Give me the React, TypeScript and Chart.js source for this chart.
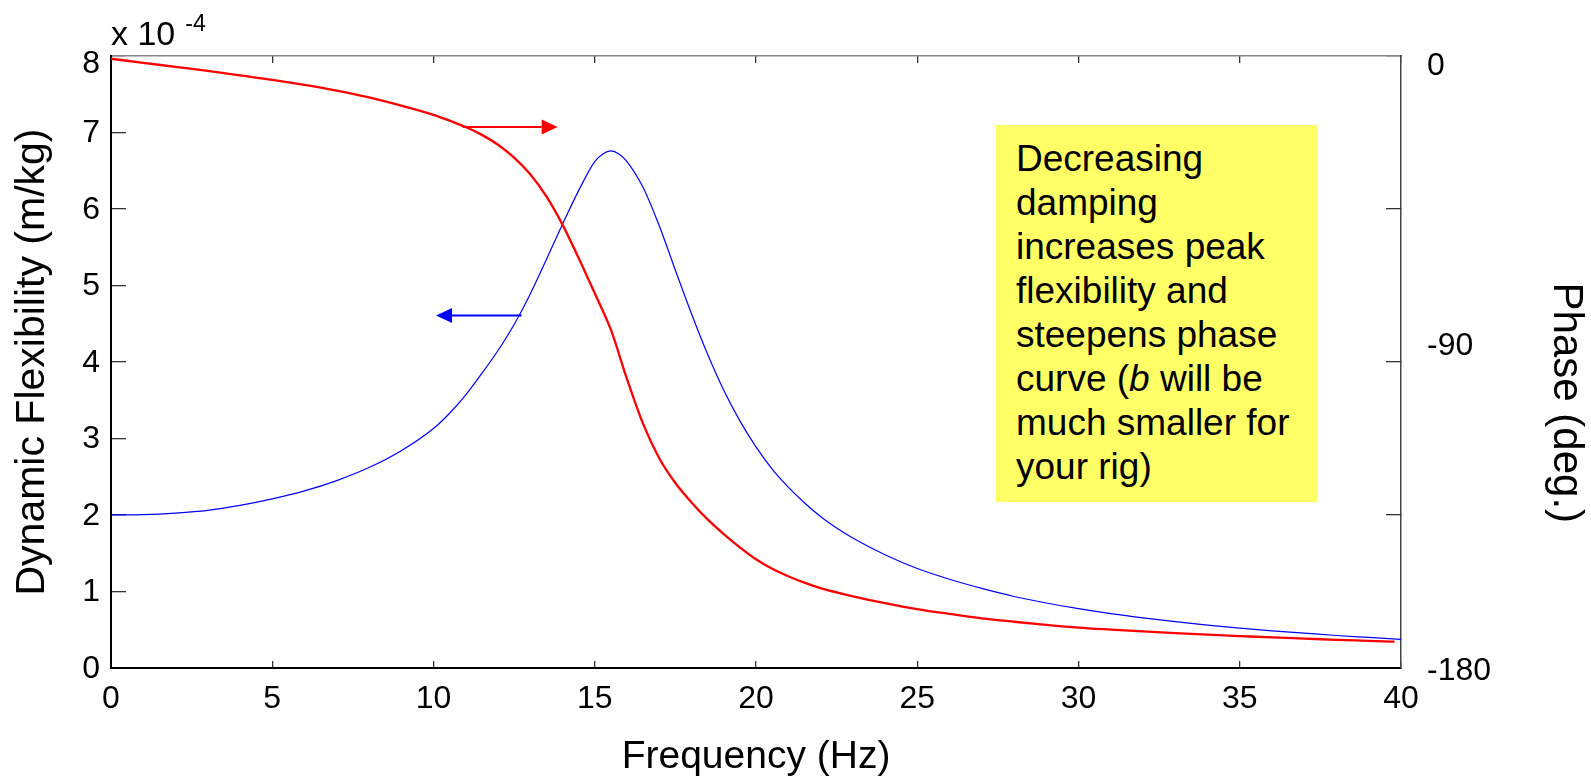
import React, { useEffect, useRef } from "react";
import { Chart, registerables } from "chart.js";

Chart.register(...registerables);

// Frequency samples (Hz) for the flexibility curve
const FREQ = [
  0, 1, 2, 3, 4, 5, 6, 7, 8, 9, 10,
  10.5, 11, 11.5, 12, 12.5, 13, 13.5, 14, 14.5, 15,
  15.25, 15.5, 15.75,
  16, 16.5, 17, 17.5, 18, 18.5, 19, 19.5, 20, 20.5, 21, 21.5, 22, 22.5,
  23, 24, 25, 26, 27, 28, 29, 30, 31, 32, 33, 34, 35, 36, 37, 38, 39, 40,
];
// Dynamic flexibility (x 10^-4 m/kg)
const FLEX = [
  2.0, 2.005, 2.025, 2.06, 2.125, 2.21, 2.315, 2.45, 2.62, 2.84, 3.13,
  3.33, 3.57, 3.85, 4.15, 4.49, 4.89, 5.34, 5.8, 6.24, 6.62,
  6.72, 6.76, 6.72,
  6.62, 6.28, 5.78, 5.2, 4.63, 4.1, 3.63, 3.23, 2.89, 2.6, 2.365, 2.16, 1.98, 1.83,
  1.7, 1.48, 1.3, 1.16, 1.04, 0.935, 0.85, 0.775, 0.71, 0.655, 0.605, 0.56, 0.52,
  0.485, 0.455, 0.425, 0.4, 0.375,
];
// Phase curve samples (Hz) and values (deg.)
const PHASE_FREQ = [
  0, 1, 2, 3, 4, 5, 6, 7, 8, 9, 10, 10.5, 11, 11.5, 12, 12.5, 13, 13.5, 14, 14.5,
  15, 15.5, 16, 16.5, 17, 17.5, 18, 18.5, 19, 19.5, 20, 20.5, 21, 21.5, 22, 23, 24,
  25, 26, 27, 28, 29, 30, 31, 32, 33, 34, 35, 36, 37, 38, 39, 39.8,
];
const PHASE = [
  -0.8, -2.0, -3.2, -4.4, -5.7, -7.0, -8.5, -10.2, -12.2, -14.6, -17.3, -19.0, -20.9,
  -23.2, -26.1, -29.9, -34.8, -41.3, -49.6, -59.4, -69.8, -80.5, -95.0, -108.2,
  -118.3, -125.6, -131.3, -136.3, -140.6, -144.5, -148.0, -150.8, -153.0, -154.9,
  -156.5, -158.9, -160.9, -162.7, -164.1, -165.4, -166.4, -167.3, -168.1, -168.7,
  -169.25, -169.75, -170.2, -170.6, -171.0, -171.35, -171.7, -172.0, -172.25,
];

const X_RANGE = [0, 40];
const X_STEP = 5;
const Y_RANGE = [0, 8];
const Y_STEP = 1;
const PHASE_RANGE = [-180, 0];
const PHASE_STEP = 22.5;
const PHASE_LABEL_EVERY = 90;

const X_TITLE = "Frequency (Hz)";
const Y_TITLE = "Dynamic Flexibility (m/kg)";
const Y2_TITLE = "Phase (deg.)";
const NOTE_LINES = [
  "Decreasing",
  "damping",
  "increases peak",
  "flexibility and",
  "steepens phase",
  "curve (|b| will be",
  "much smaller for",
  "your rig)",
];

// Arrow annotations in data coordinates
const ARROWS = [
  { axis: "y2", from: 10.91, to: 13.85, value: -20.9, color: "#ff0000" },
  { axis: "y", from: 12.73, to: 10.08, value: 4.607, color: "#0000ff" },
];

const FONT = "'Liberation Sans', Arial, Helvetica, sans-serif";
const TICK_SIZE = 32;

const annotationPlugin = {
  id: "annotations",
  afterDatasetsDraw(chart: any) {
    const { ctx, scales } = chart;
    ARROWS.forEach((a) => {
      const x1 = scales.x.getPixelForValue(a.from);
      const x2 = scales.x.getPixelForValue(a.to);
      const y = scales[a.axis].getPixelForValue(a.value);
      const dir = Math.sign(x2 - x1);
      const head = 16;
      ctx.save();
      ctx.strokeStyle = a.color;
      ctx.fillStyle = a.color;
      ctx.lineWidth = 2;
      ctx.beginPath();
      ctx.moveTo(x1, y);
      ctx.lineTo(x2 - dir * head, y);
      ctx.stroke();
      ctx.beginPath();
      ctx.moveTo(x2, y);
      ctx.lineTo(x2 - dir * head, y - 7.5);
      ctx.lineTo(x2 - dir * head, y + 7.5);
      ctx.closePath();
      ctx.fill();
      ctx.restore();
    });
  },
  afterDraw(chart: any) {
    const { ctx, chartArea } = chart;
    ctx.save();
    ctx.fillStyle = "#000";
    ctx.textBaseline = "alphabetic";
    ctx.textAlign = "left";
    ctx.font = `34px ${FONT}`;
    const base = "x 10";
    ctx.fillText(base, chartArea.left, chartArea.top - 11);
    const w = ctx.measureText(base).width;
    ctx.font = `23px ${FONT}`;
    ctx.fillText("-4", chartArea.left + w + 10, chartArea.top - 25);
    ctx.restore();
  },
};

// top-edge labels sit a little lower than their tick; the middle phase label sits higher
const topShiftFont = (isTop: boolean) =>
  isTop ? { size: TICK_SIZE, lineHeight: "14px" } : { size: TICK_SIZE, lineHeight: 1.2 };

export default function App() {
  const canvasRef = useRef<HTMLCanvasElement | null>(null);

  useEffect(() => {
    if (!canvasRef.current) return;
    Chart.defaults.font.family = FONT;
    Chart.defaults.color = "#000";
    const chart = new Chart(canvasRef.current, {
      type: "line",
      data: {
        datasets: [
          {
            label: "Phase",
            data: PHASE_FREQ.map((f, i) => ({ x: f, y: PHASE[i] })),
            xAxisID: "x",
            yAxisID: "y2",
            borderColor: "#ff0000",
            borderWidth: 2.3,
            pointRadius: 0,
            fill: false,
            cubicInterpolationMode: "monotone",
          },
          {
            label: "Flexibility",
            data: FREQ.map((f, i) => ({ x: f, y: FLEX[i] })),
            xAxisID: "x",
            yAxisID: "y",
            borderColor: "#0000ff",
            borderWidth: 1.2,
            pointRadius: 0,
            fill: false,
            cubicInterpolationMode: "monotone",
          },
        ],
      },
      options: {
        responsive: false,
        animation: false,
        layout: { padding: { top: 56, left: 0, right: 0, bottom: 0 } },
        plugins: { legend: { display: false }, tooltip: { enabled: false } },
        scales: {
          x: {
            type: "linear",
            position: "bottom",
            min: X_RANGE[0],
            max: X_RANGE[1],
            ticks: {
              stepSize: X_STEP,
              font: { size: TICK_SIZE },
              color: "#000",
              padding: 19,
              maxRotation: 0,
              autoSkip: false,
            },
            grid: {
              drawOnChartArea: false,
              drawTicks: true,
              tickLength: -7,
              color: "#333",
              lineWidth: 1.3,
            },
            border: { display: true, color: "#000", width: 2 },
            title: {
              display: true,
              text: X_TITLE,
              font: { size: 39 },
              color: "#000",
              padding: { top: 0, bottom: 0 },
            },
            afterFit: (s: any) => {
              s.height = 113;
            },
          },
          xTop: {
            type: "linear",
            position: "top",
            min: X_RANGE[0],
            max: X_RANGE[1],
            ticks: { display: false, stepSize: X_STEP },
            grid: {
              drawOnChartArea: false,
              drawTicks: true,
              tickLength: -7,
              color: "#333",
              lineWidth: 1.3,
            },
            border: { display: true, color: "#888", width: 1.5 },
            afterFit: (s: any) => {
              s.height = 0;
            },
          },
          y: {
            type: "linear",
            position: "left",
            min: Y_RANGE[0],
            max: Y_RANGE[1],
            ticks: {
              stepSize: Y_STEP,
              font: (c: any) => topShiftFont(c.tick && c.tick.value === Y_RANGE[1]),
              color: "#000",
              padding: 26,
              labelOffset: 1,
              callback: (v: any) => (Number(v) === Y_RANGE[1] ? ["", String(v)] : String(v)),
            },
            grid: {
              drawOnChartArea: false,
              drawTicks: true,
              tickLength: -15,
              color: "#333",
              lineWidth: 1.3,
            },
            border: { display: true, color: "#000", width: 2 },
            title: {
              display: true,
              text: Y_TITLE,
              font: { size: 41 },
              color: "#000",
              padding: { top: 8, bottom: 0 },
            },
            afterFit: (s: any) => {
              s.width = 111;
            },
          },
          y2: {
            type: "linear",
            position: "right",
            min: PHASE_RANGE[0],
            max: PHASE_RANGE[1],
            ticks: {
              stepSize: PHASE_STEP,
              font: (c: any) => topShiftFont(c.tick && c.tick.value === PHASE_RANGE[1]),
              color: "#000",
              padding: 41,
              labelOffset: 3,
              callback: (v: any) => {
                const n = Number(v);
                if (n % PHASE_LABEL_EVERY !== 0) return "";
                if (n === PHASE_RANGE[1]) return ["", "0"];
                if (n === PHASE_RANGE[0]) return String(n);
                return [String(n), ""];
              },
            },
            grid: {
              drawOnChartArea: false,
              drawTicks: true,
              tickLength: -15,
              color: "#333",
              lineWidth: 1.3,
            },
            border: { display: true, color: "#444", width: 1.5 },
            title: {
              display: true,
              text: "\u00a0\u00a0\u00a0\u00a0\u00a0\u00a0\u00a0" + Y2_TITLE,
              font: { size: 42 },
              color: "#000",
              padding: { top: 0, bottom: 0 },
            },
            afterFit: (s: any) => {
              s.width = 190;
            },
          },
        },
      },
      plugins: [annotationPlugin],
    } as any);
    return () => chart.destroy();
  }, []);

  return (
    <div
      style={{
        position: "fixed",
        left: 0,
        top: 0,
        width: 1591,
        height: 781,
        background: "#fff",
        overflow: "hidden",
      }}
    >
      <canvas ref={canvasRef} width={1591} height={781} style={{ display: "block" }} />
      <div
        style={{
          position: "absolute",
          left: 996,
          top: 125,
          width: 321,
          height: 377,
          background: "#ffff66",
          boxSizing: "border-box",
          paddingLeft: 20,
          paddingTop: 12,
          fontFamily: FONT,
          fontSize: 37,
          lineHeight: "44px",
          color: "#000",
          whiteSpace: "nowrap",
        }}
      >
        {NOTE_LINES.map((line, i) => {
          const parts = line.split("|");
          return (
            <div key={i}>
              {parts.map((p, j) => (j % 2 === 1 ? <i key={j}>{p}</i> : <span key={j}>{p}</span>))}
            </div>
          );
        })}
      </div>
    </div>
  );
}
